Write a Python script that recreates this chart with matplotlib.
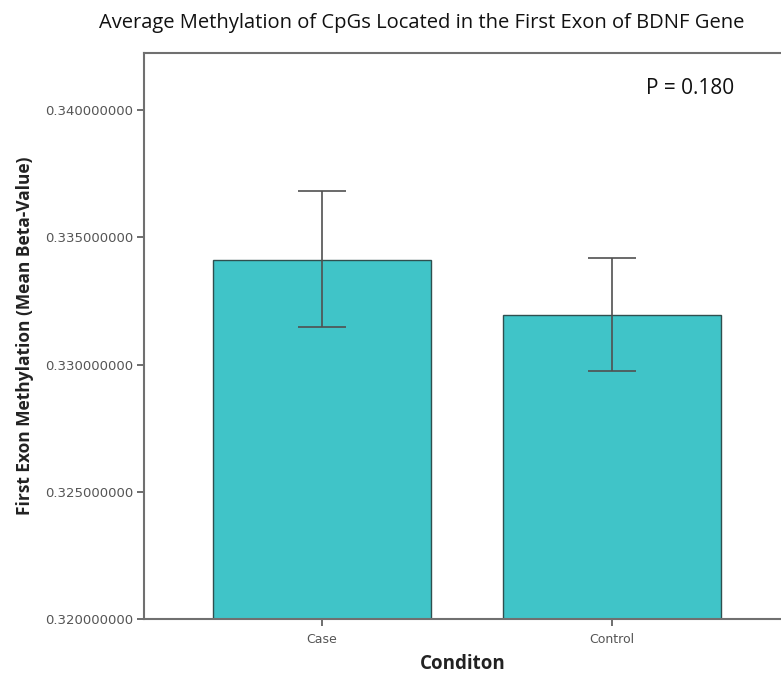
import matplotlib

matplotlib.use("Agg")
import matplotlib.pyplot as plt
from matplotlib.ticker import FormatStrFormatter

plt.rcParams["font.family"] = ["Open Sans", "DejaVu Sans"]

conditions = ["Case", "Control"]
means = [0.33412, 0.33196]
upper = [0.33682, 0.33420]
lower = [0.33149, 0.32976]
y_ticks = [0.320, 0.325, 0.330, 0.335, 0.340]

err_low = [m - lo for m, lo in zip(means, lower)]
err_high = [hi - m for m, hi in zip(means, upper)]
x = list(range(len(conditions)))

fig = plt.figure(figsize=(7.81, 6.78), dpi=100)
ax = fig.add_axes([0.1844, 0.087, 0.8156, 0.8348])

ax.bar(x, means, width=0.752, color="#40C4C8", edgecolor="#2f4f4f", linewidth=1.0, zorder=2)
ax.errorbar(x, means, yerr=[err_low, err_high], fmt="none", ecolor="#505050",
            elinewidth=1.2, capsize=17.3, capthick=1.2, zorder=3)

ax.set_xlim(-0.614, 1.583)
ax.set_ylim(0.320, 0.34224)
ax.set_xticks(x)
ax.set_xticklabels(conditions, family="DejaVu Sans", fontsize=9)
ax.set_yticks(y_ticks)
ax.set_yticklabels([f"{t:.9f}" for t in y_ticks], family="DejaVu Sans", fontsize=9.5)

ax.tick_params(axis="both", direction="out", length=5, width=1.2, color="#555555",
               labelcolor="#555555")
ax.tick_params(axis="x", pad=5)
ax.tick_params(axis="y", pad=3)
for side in ["left", "bottom", "top"]:
    ax.spines[side].set_color("#707070")
    ax.spines[side].set_linewidth(1.5)
ax.spines["right"].set_visible(False)

ax.set_ylabel("First Exon Methylation (Mean Beta-Value)", fontsize=12.5, fontweight="bold",
              color="#222222", labelpad=8)
ax.set_xlabel("Conditon", fontsize=13.5, fontweight="bold", color="#222222", labelpad=6)

fig.text(0.54, 0.966, "Average Methylation of CpGs Located in the First Exon of BDNF Gene",
         ha="center", va="center", fontsize=14.5, color="#111111")
ax.text(0.857, 0.938, "P = 0.180", transform=ax.transAxes, ha="center", va="center",
        fontsize=15, color="#111111")

fig.savefig("out.png", dpi=100)
